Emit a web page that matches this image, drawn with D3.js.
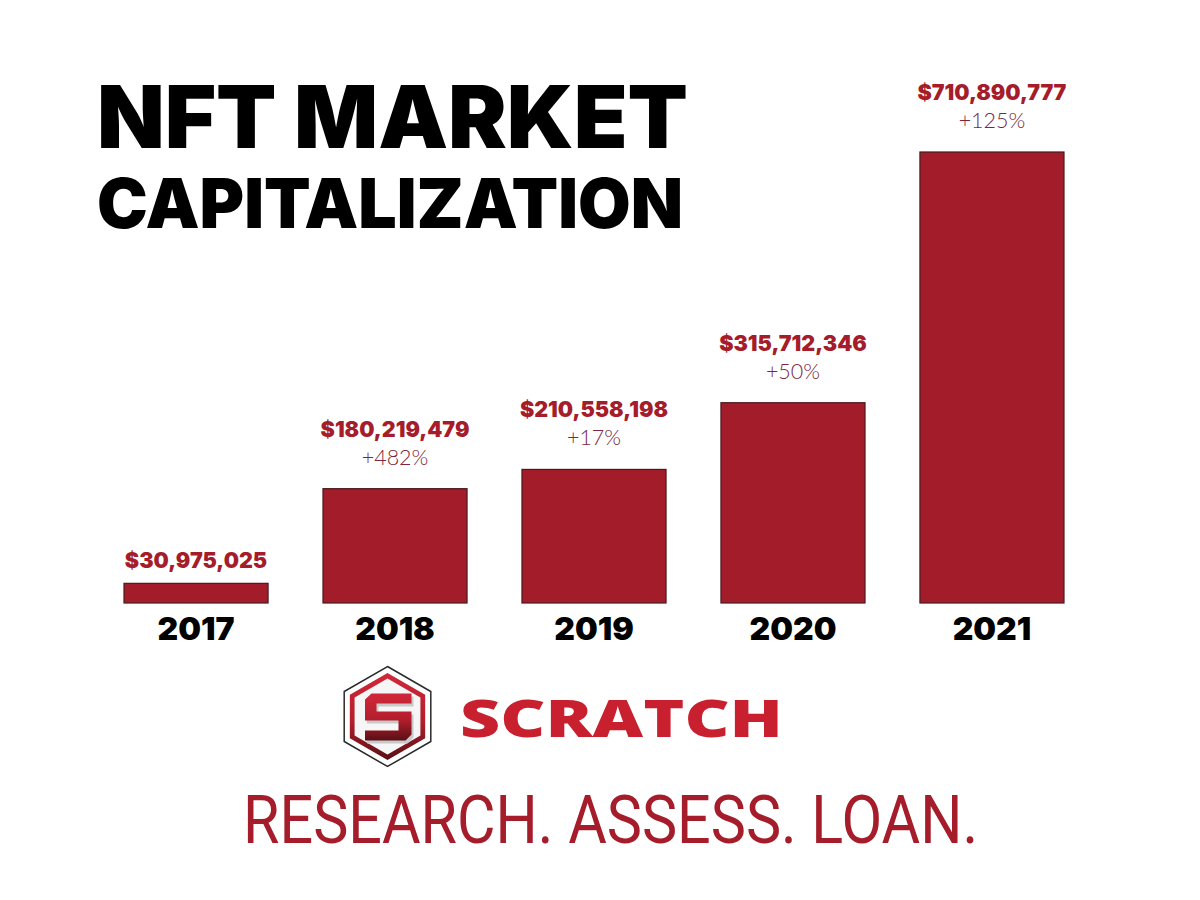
<!DOCTYPE html>
<html>
<head>
<meta charset="utf-8">
<script src="https://cdn.jsdelivr.net/npm/d3@7"></script>
<style>
  html, body { margin: 0; padding: 0; background: #ffffff; }
  svg { display: block; }
</style>
</head>
<body>
<script>
// ---- Data ----
const years = ["2017", "2018", "2019", "2020", "2021"];
const values = [30975025, 180219479, 210558198, 315712346, 710890777];
const growth = ["", "+482%", "+17%", "+50%", "+125%"];
const titleLines = ["NFT MARKET", "CAPITALIZATION"];
const brand = "SCRATCH";
const tagline = "RESEARCH. ASSESS. LOAN.";

// ---- Layout ----
const W = 1200, H = 900;
const RED = "#a51c2a";
const heavy = "Inter, Lato, Roboto, 'DejaVu Sans', sans-serif";

const svg = d3.select("body").append("svg")
  .attr("width", W).attr("height", H);

svg.append("rect").attr("width", W).attr("height", H).attr("fill", "#fff");

// Title
svg.append("text")
  .attr("x", 97).attr("y", 148)
  .attr("font-family", heavy).attr("font-weight", 900)
  .attr("font-size", 86)
  .attr("textLength", 591).attr("lengthAdjust", "spacingAndGlyphs")
  .attr("fill", "#000")
  .text(titleLines[0]);
svg.append("text")
  .attr("x", 97).attr("y", 228)
  .attr("font-family", heavy).attr("font-weight", 900)
  .attr("font-size", 69)
  .attr("textLength", 586).attr("lengthAdjust", "spacingAndGlyphs")
  .attr("fill", "#000")
  .text(titleLines[1]);

// Scales
const x = d3.scaleBand().domain(years).range([124, 1064]).paddingInner(0.276).paddingOuter(0);
const y = d3.scaleLinear().domain([0, d3.max(values)]).range([603, 152]);

const data = years.map((yr, i) => ({ yr, v: values[i], g: growth[i] }));

// Bars
svg.append("g").selectAll("rect").data(data).join("rect")
  .attr("x", d => x(d.yr))
  .attr("y", d => y(d.v))
  .attr("width", x.bandwidth())
  .attr("height", d => y(0) - y(d.v))
  .attr("fill", "#a31c29")
  .attr("stroke", "#4a1a1f")
  .attr("stroke-width", 1.2);

// Value labels
svg.append("g").selectAll("text").data(data).join("text")
  .attr("x", d => x(d.yr) + x.bandwidth() / 2)
  .attr("y", d => y(d.v) - (d.g ? 52 : 15))
  .attr("text-anchor", "middle")
  .attr("font-family", heavy).attr("font-weight", 900)
  .attr("font-size", 21.5)
  .attr("fill", RED)
  .text(d => "$" + d3.format(",")(d.v));

// Growth labels
svg.append("g").selectAll("text").data(data.filter(d => d.g)).join("text")
  .attr("x", d => x(d.yr) + x.bandwidth() / 2)
  .attr("y", d => y(d.v) - 24)
  .attr("text-anchor", "middle")
  .attr("font-family", "Lato, 'Open Sans', sans-serif").attr("font-weight", 300)
  .attr("font-size", 21.5)
  .attr("fill", "#7a2840")
  .text(d => d.g);

// Year axis
const xAxis = d3.axisBottom(x).tickSize(0).tickPadding(0);
const ax = svg.append("g").attr("transform", `translate(0, ${y(0)})`).call(xAxis);
ax.select(".domain").remove();
ax.selectAll("text")
  .attr("dy", 0)
  .attr("y", 37)
  .attr("font-family", heavy).attr("font-weight", 900)
  .attr("font-size", 32)
  .attr("fill", "#000");

// Logo hexagon
const cx = 387.5, cy = 716.5;
const hex = r => d3.range(6).map(k => {
  const a = Math.PI / 180 * (60 * k - 90);
  return [cx + r * Math.cos(a), cy + r * Math.sin(a)];
});
const defs = svg.append("defs");
const grad = defs.append("linearGradient").attr("id", "sgrad")
  .attr("x1", 0).attr("y1", 0).attr("x2", 0).attr("y2", 1);
grad.append("stop").attr("offset", "0%").attr("stop-color", "#d0283a");
grad.append("stop").attr("offset", "55%").attr("stop-color", "#b41e2d");
grad.append("stop").attr("offset", "100%").attr("stop-color", "#5a0f16");

const logo = svg.append("g");
logo.append("polygon").attr("points", hex(50).map(p => p.join(",")).join(" "))
  .attr("fill", "#fff").attr("stroke", "#2a2a2a").attr("stroke-width", 1.5);
logo.append("polygon").attr("points", hex(43.5).map(p => p.join(",")).join(" "))
  .attr("fill", "url(#sgrad)");
logo.append("polygon").attr("points", hex(38).map(p => p.join(",")).join(" "))
  .attr("fill", "#f6f6f6");
const sPts = [
  [-16,-23],[24,-23],[24,-13],[-11,-13],[-11,-5],[24,-5],[24,18],[18,24],
  [-22.5,24],[-22.5,14],[11,14],[11,4],[-22.5,4],[-22.5,-17]
];
const sPoly = pts => pts.map(p => (cx + p[0]) + "," + (cy + p[1])).join(" ");
logo.append("polygon").attr("points", sPts.map(p => [p[0] + 2, p[1] + 3]).map(p => (cx + p[0]) + "," + (cy + p[1])).join(" "))
  .attr("fill", "#c9c9c9");
logo.append("polygon").attr("points", sPoly(sPts))
  .attr("fill", "url(#sgrad)");

// Brand text
svg.append("text")
  .attr("x", 460).attr("y", 737)
  .attr("font-family", "'Open Sans', Roboto, sans-serif").attr("font-weight", 800)
  .attr("font-size", 51)
  .attr("textLength", 323).attr("lengthAdjust", "spacingAndGlyphs")
  .attr("fill", "#c8202f")
  .text(brand);

// Tagline
svg.append("text")
  .attr("x", 243).attr("y", 843)
  .attr("font-family", "Roboto, 'Liberation Sans', sans-serif").attr("font-weight", 400)
  .attr("font-size", 67)
  .attr("textLength", 735).attr("lengthAdjust", "spacingAndGlyphs")
  .attr("fill", RED)
  .text(tagline);
</script>
</body>
</html>
